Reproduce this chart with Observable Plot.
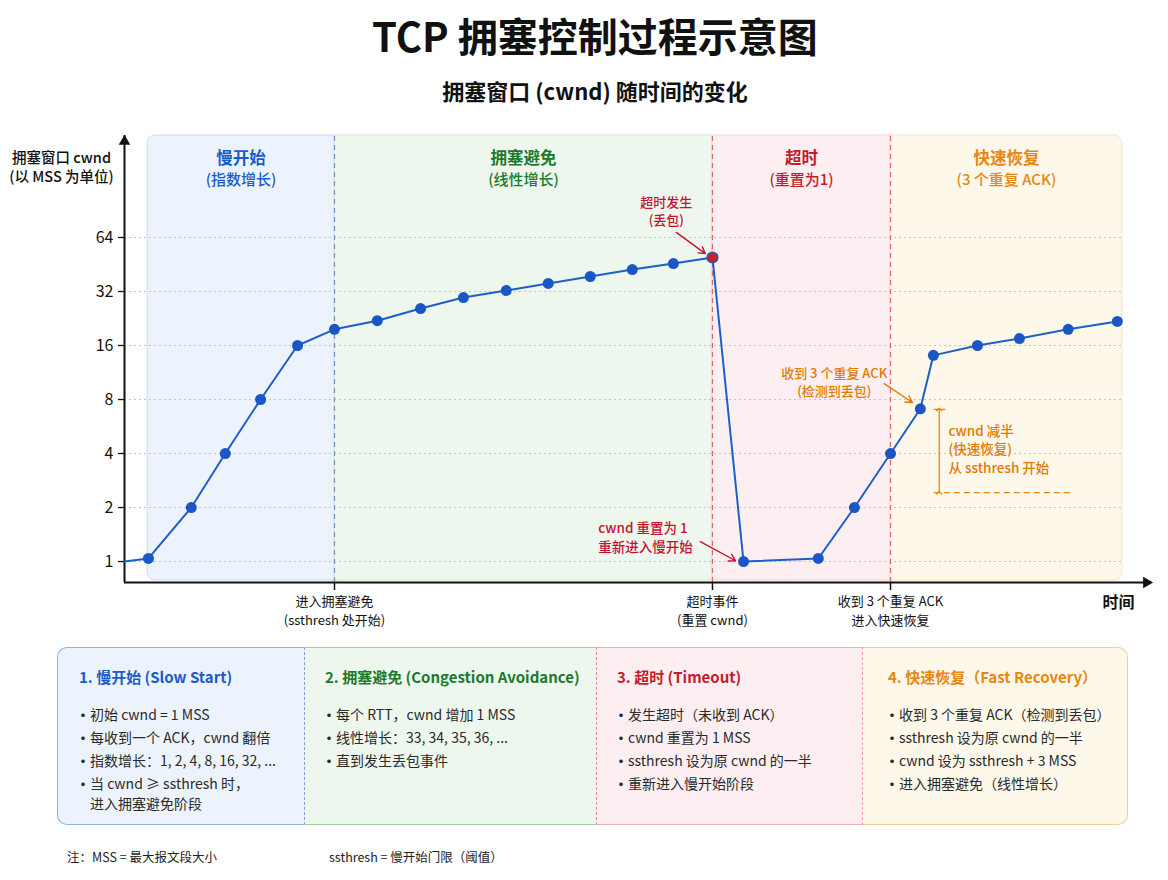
<!DOCTYPE html>
<html><head><meta charset="utf-8">
<script src="https://cdn.jsdelivr.net/npm/d3@7"></script>
<script src="https://cdn.jsdelivr.net/npm/@observablehq/plot@0.6"></script>
<style>
body{margin:0;background:#fff;font-family:"Noto Sans CJK SC","Noto Sans",sans-serif;color:#111;}
#page{position:relative;width:1168px;height:880px;overflow:hidden;background:#fff}
#title{position:absolute;left:11px;top:8px;width:1168px;text-align:center;font-size:40px;font-weight:700;line-height:54px;color:#111}
#subtitle{position:absolute;left:11px;top:75px;width:1168px;text-align:center;font-size:22px;font-weight:700;line-height:30px;color:#111}
#chart{position:absolute;left:0;top:120px}
#boxes{position:absolute;left:57px;top:647px;width:1071px;height:178px;display:flex}
.sec{box-sizing:border-box;height:178px;padding:19px 0 0 20px;border-top:1px solid;border-bottom:1px solid}
.sec h4{margin:0;font-size:15px;line-height:20px;font-weight:600}
.sec ul{list-style:none;margin:17px 0 0 0;padding:0}
.sec li{position:relative;padding-left:11px;font-size:14px;line-height:20px;margin-bottom:3px;color:#2a2a2a}
.sec li::before{content:"·";position:absolute;left:-3px;top:0;font-weight:700}
#foot{position:absolute;top:847px;left:0;width:1168px;font-size:12.5px;line-height:20px;color:#222}
#foot span{position:absolute;top:0;white-space:nowrap}
</style></head>
<body><div id="page">
<div id="title">TCP 拥塞控制过程示意图</div>
<div id="subtitle">拥塞窗口 (cwnd) 随时间的变化</div>
<div id="chart"></div>
<div id="boxes"></div>
<div id="foot"><span style="left:67px">注：MSS = 最大报文段大小</span><span style="left:329px">ssthresh = 慢开始门限（阈值）</span></div>
</div>
<script>
// ---------- data ----------
const times = [-0.57, 0, 1.02, 1.83, 2.67, 3.55, 4.43, 5.45, 6.48, 7.5, 8.52, 9.52, 10.52, 11.52, 12.5, 13.43, 14.17, 15.95, 16.81, 17.67, 18.38, 18.69, 19.74, 20.74, 21.9, 23.07];
const cwnd  = [1, 1.04, 2, 4, 8, 16, 19.7, 22, 25.7, 29.6, 32.4, 35.5, 38.8, 42.4, 45.8, 49.5, 1, 1.04, 2, 4, 7.1, 14.1, 16, 17.5, 19.7, 21.8];
const pointKind = ["none","dot","dot","dot","dot","dot","dot","dot","dot","dot","dot","dot","dot","dot","dot","loss","dot","dot","dot","dot","dot","dot","dot","dot","dot","dot"];

const yTicks = [1, 2, 4, 8, 16, 32, 64];
const xDomain = [-0.57, 23.86];
const yDomain = [0.764, 237];

const phaseNames = ["慢开始", "拥塞避免", "超时", "快速恢复"];
const phaseSubs = ["(指数增长)", "(线性增长)", "(重置为1)", "(3 个重复 ACK)"];
const phaseStart = [-0.02, 4.43, 13.43, 17.67];
const phaseEnd = [4.43, 13.43, 17.67, 23.19];
const phaseFill = ["#edf3fc", "#eef7ee", "#fdeff1", "#fef8eb"];
const phaseBorder = ["#cddcf2", "#d3e9d3", "#f5d3d8", "#f6e5c2"];
const phaseText = ["#1a5cc8", "#1c7a2c", "#c41c2c", "#e8870e"];

const eventTimes = [4.43, 13.43, 17.67];
const eventLabels = ["进入拥塞避免\n(ssthresh 处开始)", "超时事件\n(重置 cwnd)", "收到 3 个重复 ACK\n进入快速恢复"];
const eventColor = ["#7096c4", "#d9676e", "#e0656c"];

const noteText = ["超时发生\n(丢包)", "cwnd 重置为 1\n重新进入慢开始", "收到 3 个重复 ACK\n(检测到丢包)", "cwnd 减半\n(快速恢复)\n从 ssthresh 开始"];
const noteT = [12.33, 10.71, 16.33, 19.05];
const noteV = [90.5, 1.38, 10.1, 4.27];
const noteColor = ["#c8102e", "#c8102e", "#e07b00", "#e07b00"];
const noteAlign = ["middle", "start", "middle", "start"];

const arrowT1 = [12.57, 13.14, 17.52];
const arrowV1 = [68.3, 1.29, 9.8];
const arrowT2 = [13.26, 13.98, 18.19];
const arrowV2 = [52, 1.01, 7.7];
const arrowColor = ["#c8102e", "#c8102e", "#e07b00"];

const halfT = 18.83, halfTop = 7.04, halfBottom = 2.42;
const ssLineT = [18.71, 22.02];
const topDashT = [18.71, 18.98];

const boxTitles = ["1. 慢开始 (Slow Start)", "2. 拥塞避免 (Congestion Avoidance)", "3.  超时 (Timeout)", "4. 快速恢复（Fast Recovery）"];
const boxItems = [
  ["初始 cwnd = 1 MSS", "每收到一个 ACK，cwnd 翻倍", "指数增长：1, 2, 4, 8, 16, 32, ...", "当 cwnd ≥ ssthresh 时，\n进入拥塞避免阶段"],
  ["每个 RTT，cwnd 增加 1 MSS", "线性增长：33, 34, 35, 36, ...", "直到发生丢包事件"],
  ["发生超时（未收到 ACK）", "cwnd 重置为 1 MSS", "ssthresh 设为原 cwnd 的一半", "重新进入慢开始阶段"],
  ["收到 3 个重复 ACK（检测到丢包）", "ssthresh 设为原 cwnd 的一半", "cwnd 设为 ssthresh + 3 MSS", "进入拥塞避免（线性增长）"]
];
const boxWidths = [247, 292, 266, 266];
const boxBorder = ["#8fb2e0", "#9fcf9f", "#efb0b5", "#f2cf8a"];
const boxDivider = [null, "#7aa3d8", "#e08a8a", "#f0a0a0"];

// ---------- build ----------
const points = times.map((t, i) => ({t, v: cwnd[i], kind: pointKind[i]}));
const phases = phaseNames.map((n, i) => ({name: n, sub: phaseSubs[i], x1: phaseStart[i], x2: phaseEnd[i], mid: (phaseStart[i] + phaseEnd[i]) / 2, fill: phaseFill[i], border: phaseBorder[i], color: phaseText[i], i}));
const events = eventTimes.map((t, i) => ({t, label: eventLabels[i], color: eventColor[i]}));
const eventLabelMap = new Map(events.map(e => [e.t, e.label]));
const notes = noteText.map((s, i) => ({s, t: noteT[i], v: noteV[i], color: noteColor[i], align: noteAlign[i]}));
const arrows = arrowT1.map((t, i) => ({t1: t, v1: arrowV1[i], t2: arrowT2[i], v2: arrowV2[i], color: arrowColor[i]}));
const font = '"Noto Sans CJK SC","Noto Sans",sans-serif';

const chart = Plot.plot({
  width: 1168, height: 520,
  marginLeft: 124, marginRight: 18, marginTop: 15, marginBottom: 58,
  style: {fontFamily: font, fontSize: "13px", color: "#111", background: "transparent", overflow: "visible"},
  x: {domain: xDomain},
  y: {type: "log", base: 2, domain: yDomain},
  color: {type: "identity"},
  marks: [
    // phase backgrounds (outer ones rounded, drawn first)
    Plot.rect(phases.filter(p => p.i === 0), {x1: "x1", x2: "x2", y1: () => yDomain[0], y2: () => yDomain[1], fill: "fill", stroke: "border", rx: 8, insetBottom: 2, insetRight: -12}),
    Plot.rect(phases.filter(p => p.i === 3), {x1: "x1", x2: "x2", y1: () => yDomain[0], y2: () => yDomain[1], fill: "fill", stroke: "border", rx: 8, insetBottom: 2, insetLeft: -12}),
    Plot.rect(phases.filter(p => p.i === 1 || p.i === 2), {x1: "x1", x2: "x2", y1: () => yDomain[0], y2: () => yDomain[1], fill: "fill", stroke: "border", insetBottom: 2}),
    // grid
    Plot.ruleY(yTicks, {y: d => d, x1: () => xDomain[0], x2: () => phaseEnd[3], stroke: "#c4c4c4", strokeDasharray: "2,3"}),
    // phase boundaries
    Plot.ruleX(events, {x: "t", y1: () => yDomain[0], y2: () => yDomain[1], stroke: "color", strokeDasharray: "5,4", strokeWidth: 1.2}),
    // phase titles
    Plot.text(phases, {x: "mid", text: "name", frameAnchor: "top", lineAnchor: "middle", dy: 23, fill: "color", fontSize: 16.5, fontWeight: 700}),
    Plot.text(phases, {x: "mid", text: "sub", frameAnchor: "top", lineAnchor: "middle", dy: 45, fill: "color", fontSize: 15, fontWeight: 500}),
    // axes
    Plot.axisY({ticks: yTicks, tickFormat: d => String(d), tickSize: 6, tickPadding: 5, fontSize: 16, label: null, stroke: "#111", strokeWidth: 1.3}),
    Plot.axisX({ticks: eventTimes, tickFormat: d => eventLabelMap.get(d), tickSize: 8, tickPadding: 3, fontSize: 13, lineHeight: 1.4, label: null, stroke: "#111", strokeWidth: 1.5}),
    Plot.ruleX([xDomain[0]], {x: d => d, y1: () => yDomain[0], y2: () => yDomain[1], stroke: "#111", strokeWidth: 2}),
    Plot.ruleY([yDomain[0]], {y: d => d, x1: () => xDomain[0], x2: () => xDomain[1], stroke: "#111", strokeWidth: 2}),
    Plot.dot([xDomain[0]], {x: d => d, y: () => yDomain[1], symbol: "triangle", r: 4.3, fill: "#111", dy: 6}),
    Plot.dot([xDomain[1]], {x: d => d, y: () => yDomain[0], symbol: "triangle", r: 4.3, fill: "#111", rotate: 90, dx: -4}),
    Plot.text(["时间"], {frameAnchor: "bottom-right", text: d => d, dx: -32, dy: 20, lineAnchor: "middle", fontSize: 16, fontWeight: 700, textAnchor: "middle"}),
    Plot.text(["拥塞窗口 cwnd\n(以 MSS 为单位)"], {frameAnchor: "top-left", text: d => d, dx: -63, dy: 31, lineAnchor: "middle", fontSize: 14.5, fontWeight: 500, textAnchor: "middle", lineHeight: 1.3}),
    // ssthresh bracket
    Plot.ruleY([halfBottom], {y: d => d, x1: () => ssLineT[0], x2: () => ssLineT[1], stroke: "#e8870e", strokeDasharray: "6,4", strokeWidth: 1.3}),
    Plot.ruleY([halfTop], {y: d => d, x1: () => topDashT[0], x2: () => topDashT[1], stroke: "#e8870e", strokeDasharray: "5,3", strokeWidth: 1.3}),
    Plot.link([halfT], {x1: d => d, x2: d => d, y1: () => halfBottom, y2: () => halfTop, stroke: "#e8870e", strokeWidth: 1.3, markerStart: "arrow", markerEnd: "arrow"}),
    // data line
    Plot.line(points, {x: "t", y: "v", stroke: "#1d5fc9", strokeWidth: 2}),
    Plot.dot(points.filter(d => d.kind === "dot"), {x: "t", y: "v", r: 5.5, fill: "#1a56c4"}),
    Plot.dot(points.filter(d => d.kind === "loss"), {x: "t", y: "v", r: 5.5, fill: "#c0262d", stroke: "#1a56c4", strokeWidth: 1.2}),
    // annotations
    Plot.arrow(arrows, {x1: "t1", y1: "v1", x2: "t2", y2: "v2", stroke: "color", strokeWidth: 1.4, headLength: 8}),
    Plot.text(notes.filter(n => n.align === "middle"), {x: "t", y: "v", text: "s", fill: "color", fontSize: 13, fontWeight: 500, textAnchor: "middle", lineHeight: 1.38}),
    Plot.text(notes.filter(n => n.align === "start"), {x: "t", y: "v", text: "s", fill: "color", fontSize: 13.5, fontWeight: 500, textAnchor: "start", lineHeight: 1.38})
  ]
});
document.getElementById("chart").appendChild(chart);

// bottom info boxes
const boxes = document.getElementById("boxes");
boxTitles.forEach((title, i) => {
  const sec = document.createElement("div");
  sec.className = "sec";
  sec.style.width = boxWidths[i] + "px";
  sec.style.background = phaseFill[i];
  sec.style.borderTopColor = boxBorder[i];
  sec.style.borderBottomColor = boxBorder[i];
  if (i === 0) { sec.style.borderLeft = "1px solid " + boxBorder[i]; sec.style.borderRadius = "10px 0 0 10px"; sec.style.paddingLeft = "21px"; }
  if (i === 3) { sec.style.borderRight = "1px solid " + boxBorder[i]; sec.style.borderRadius = "0 10px 10px 0"; sec.style.paddingLeft = "25px"; }
  if (boxDivider[i]) sec.style.borderLeft = "1px dashed " + boxDivider[i];
  const h = document.createElement("h4");
  h.textContent = title;
  h.style.color = phaseText[i];
  sec.appendChild(h);
  const ul = document.createElement("ul");
  boxItems[i].forEach(item => {
    const li = document.createElement("li");
    item.split("\n").forEach((line, k) => {
      if (k) li.appendChild(document.createElement("br"));
      li.appendChild(document.createTextNode(line));
    });
    ul.appendChild(li);
  });
  sec.appendChild(ul);
  boxes.appendChild(sec);
});
</script>
</body></html>
